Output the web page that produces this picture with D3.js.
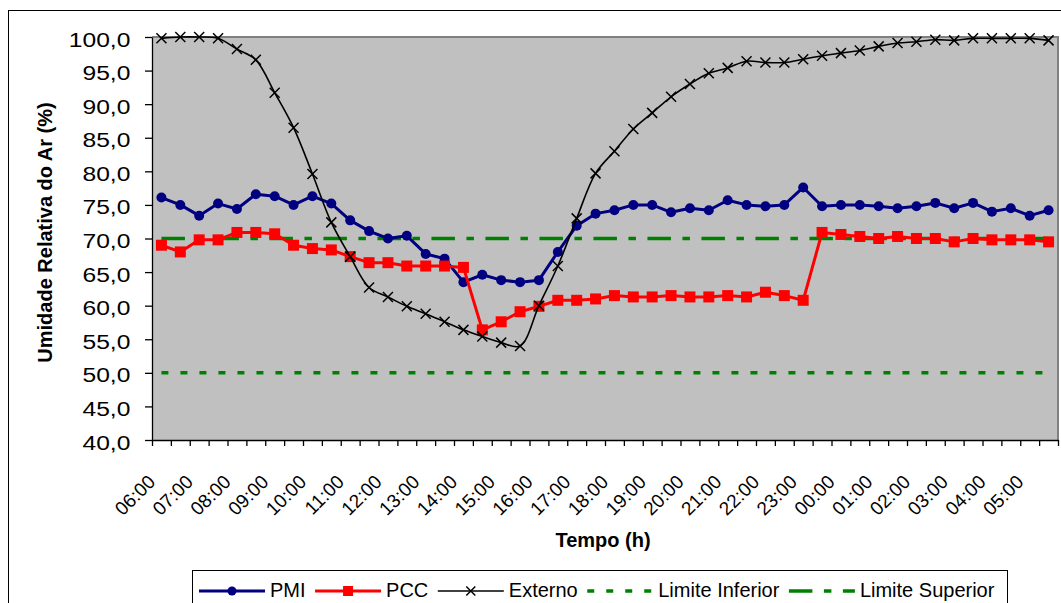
<!DOCTYPE html>
<html><head><meta charset="utf-8">
<script src="https://cdn.jsdelivr.net/npm/d3@7"></script>
<style>
body{margin:0;background:#fff}
svg{display:block;font-family:Arial,"Liberation Sans",sans-serif}
</style>
</head><body>
<svg id="c" width="1061" height="603"></svg>
<script>
const categories = ["06:00","06:30","07:00","07:30","08:00","08:30","09:00","09:30","10:00","10:30","11:00","11:30",
  "12:00","12:30","13:00","13:30","14:00","14:30","15:00","15:30","16:00","16:30","17:00","17:30",
  "18:00","18:30","19:00","19:30","20:00","20:30","21:00","21:30","22:00","22:30","23:00","23:30",
  "00:00","00:30","01:00","01:30","02:00","02:30","03:00","03:30","04:00","04:30","05:00","05:30"];
const tickLabels = ["06:00","07:00","08:00","09:00","10:00","11:00","12:00","13:00","14:00","15:00","16:00","17:00",
  "18:00","19:00","20:00","21:00","22:00","23:00","00:00","01:00","02:00","03:00","04:00","05:00"];
const pmi = [76.1,75.0,73.4,75.2,74.4,76.6,76.3,75.0,76.3,75.2,72.7,71.1,
  70.0,70.4,67.7,67.0,63.5,64.6,63.8,63.5,63.8,68.0,71.9,73.7,
  74.2,75.0,75.0,73.9,74.5,74.2,75.7,75.0,74.8,75.0,77.6,74.8,
  75.0,75.0,74.8,74.5,74.8,75.3,74.5,75.3,74.0,74.5,73.4,74.2];
const pcc = [69.0,68.0,69.8,69.8,70.9,70.9,70.7,69.0,68.5,68.3,67.3,66.4,
  66.4,65.9,65.9,65.9,65.7,56.4,57.6,59.1,59.9,60.8,60.8,61.0,
  61.5,61.3,61.3,61.5,61.3,61.3,61.5,61.3,62.0,61.5,60.8,70.9,
  70.6,70.3,70.0,70.3,70.0,70.0,69.5,70.0,69.8,69.8,69.8,69.5];
const externo = [99.8,100.0,100.0,99.8,98.2,96.6,91.7,86.5,79.6,72.4,67.3,62.7,
  61.3,59.9,58.8,57.6,56.4,55.4,54.5,54.0,60.0,65.9,73.0,79.7,
  83.0,86.3,88.7,91.1,93.0,94.6,95.4,96.4,96.2,96.2,96.7,97.2,
  97.6,98.0,98.6,99.1,99.3,99.6,99.5,99.8,99.8,99.8,99.8,99.5];
const limiteInferior = 50.0;
const limiteSuperior = 70.0;
const yTicks = [40,45,50,55,60,65,70,75,80,85,90,95,100];
const seriesNames = ["PMI","PCC","Externo","Limite Inferior","Limite Superior"];

const svg = d3.select("#c");
const L = 152, R = 1058, T = 37, B = 440;
const x = d3.scalePoint().domain(categories).range([L, R]).padding(0.5);
const xb = d3.scaleLinear().domain([0, categories.length]).range([L, R]);
const y = d3.scaleLinear().domain([40, 100]).range([B, T]);

// outer chart frame
svg.append("rect").attr("x", 8.5).attr("y", 10.5).attr("width", 1200).attr("height", 800)
  .attr("fill", "none").attr("stroke", "#000").attr("stroke-width", 1);

// plot area
svg.append("rect").attr("x", L).attr("y", T).attr("width", R - L).attr("height", B - T).attr("fill", "#c0c0c0");
svg.append("path").attr("d", `M${L},${T}H${R}V${B}`).attr("fill", "none")
  .attr("stroke", "#808080").attr("stroke-width", 2);

// x axis (tick marks at category boundaries)
const gx = svg.append("g").attr("transform", `translate(0,${B})`)
  .call(d3.axisBottom(xb).tickValues(d3.range(categories.length + 1)).tickSize(6).tickSizeOuter(0).tickFormat(""));
gx.selectAll("path,line").attr("stroke", "#000").attr("stroke-width", 1.3);

// x tick labels
svg.append("g").selectAll("text").data(tickLabels).join("text")
  .attr("transform", d => `translate(${x(d) - 5},${B + 43}) rotate(-45)`)
  .attr("text-anchor", "end").attr("font-size", 19).attr("fill", "#000").text(d => d);

// y axis
const gy = svg.append("g").attr("transform", `translate(${L},0)`)
  .call(d3.axisLeft(y).tickValues(yTicks).tickSize(7).tickSizeOuter(0)
    .tickFormat(d => d.toFixed(1).replace(".", ",")));
gy.selectAll("path,line").attr("stroke", "#000").attr("stroke-width", 1.3);
gy.selectAll("text").attr("font-size", 20).attr("font-family", "Arial, 'Liberation Sans', sans-serif")
  .attr("fill", "#000").attr("x", -17.6).attr("dy", "0.45em").attr("transform", "scale(1.23,1)");

// limit lines
const x0 = x(categories[0]), x1 = x(categories[categories.length - 1]);
svg.append("line").attr("x1", x0).attr("x2", x1).attr("y1", y(limiteInferior)).attr("y2", y(limiteInferior))
  .attr("stroke", "#008000").attr("stroke-width", 3.5).attr("stroke-dasharray", "7,12");
svg.append("line").attr("x1", x0).attr("x2", x1).attr("y1", y(limiteSuperior)).attr("y2", y(limiteSuperior))
  .attr("stroke", "#008000").attr("stroke-width", 3.5).attr("stroke-dasharray", "23.5,11.5,7.5,11.5");

const lineGen = d3.line().x((d, i) => x(categories[i])).y(d => y(d));

// PMI
svg.append("path").datum(pmi).attr("d", lineGen).attr("fill", "none")
  .attr("stroke", "#000080").attr("stroke-width", 3).attr("stroke-linejoin", "round");
svg.append("g").selectAll("circle").data(pmi).join("circle")
  .attr("cx", (d, i) => x(categories[i])).attr("cy", d => y(d)).attr("r", 5).attr("fill", "#000080");

// PCC
svg.append("path").datum(pcc).attr("d", lineGen).attr("fill", "none")
  .attr("stroke", "#ff0000").attr("stroke-width", 3).attr("stroke-linejoin", "round");
svg.append("g").selectAll("rect").data(pcc).join("rect")
  .attr("x", (d, i) => x(categories[i]) - 5.5).attr("y", d => y(d) - 5.5)
  .attr("width", 11).attr("height", 11).attr("fill", "#ff0000");

// Externo
svg.append("path").datum(externo).attr("d", lineGen.curve(d3.curveCatmullRom)).attr("fill", "none")
  .attr("stroke", "#000").attr("stroke-width", 1.6);
lineGen.curve(d3.curveLinear);
const xMark = (cx, cy, s) => `M${cx - s},${cy - s}L${cx + s},${cy + s}M${cx - s},${cy + s}L${cx + s},${cy - s}`;
svg.append("g").selectAll("path").data(externo).join("path")
  .attr("d", (d, i) => xMark(x(categories[i]), y(d), 5)).attr("stroke", "#000").attr("stroke-width", 1.5);

// axis titles
svg.append("text").attr("x", 603).attr("y", 547).attr("text-anchor", "middle")
  .attr("font-size", 20).attr("font-weight", "bold").text("Tempo (h)");
svg.append("text").attr("transform", "translate(52,232.5) rotate(-90)").attr("text-anchor", "middle")
  .attr("font-size", 20).attr("font-weight", "bold").text("Umidade Relativa do Ar (%)");

// legend
const leg = svg.append("g");
leg.append("rect").attr("x", 192.5).attr("y", 570.5).attr("width", 815).attr("height", 60)
  .attr("fill", "#fff").attr("stroke", "#000").attr("stroke-width", 1);
let lx = 199;
const ly = 591;
seriesNames.forEach((name, k) => {
  const g = leg.append("g");
  const ln = g.append("line").attr("x1", lx).attr("x2", lx + 66).attr("y1", ly).attr("y2", ly);
  const mid = lx + 33;
  if (k === 0) {
    ln.attr("stroke", "#000080").attr("stroke-width", 3);
    g.append("circle").attr("cx", mid).attr("cy", ly).attr("r", 4.5).attr("fill", "#000080");
  } else if (k === 1) {
    ln.attr("stroke", "#ff0000").attr("stroke-width", 3);
    g.append("rect").attr("x", mid - 5).attr("y", ly - 5).attr("width", 10).attr("height", 10).attr("fill", "#ff0000");
  } else if (k === 2) {
    ln.attr("stroke", "#000").attr("stroke-width", 1.5);
    g.append("path").attr("d", xMark(mid, ly, 4.5)).attr("stroke", "#000").attr("stroke-width", 1.5);
  } else if (k === 3) {
    ln.attr("stroke", "#008000").attr("stroke-width", 3.5).attr("stroke-dasharray", "7,12");
  } else {
    ln.attr("stroke", "#008000").attr("stroke-width", 3.5).attr("stroke-dasharray", "23.5,11.5,7.5,11.5");
  }
  const t = g.append("text").attr("x", lx + 71).attr("y", 596.5).attr("font-size", 20).attr("fill", "#000").text(name);
  lx = lx + 71 + t.node().getComputedTextLength() + 9.5;
});
</script>
</body></html>
